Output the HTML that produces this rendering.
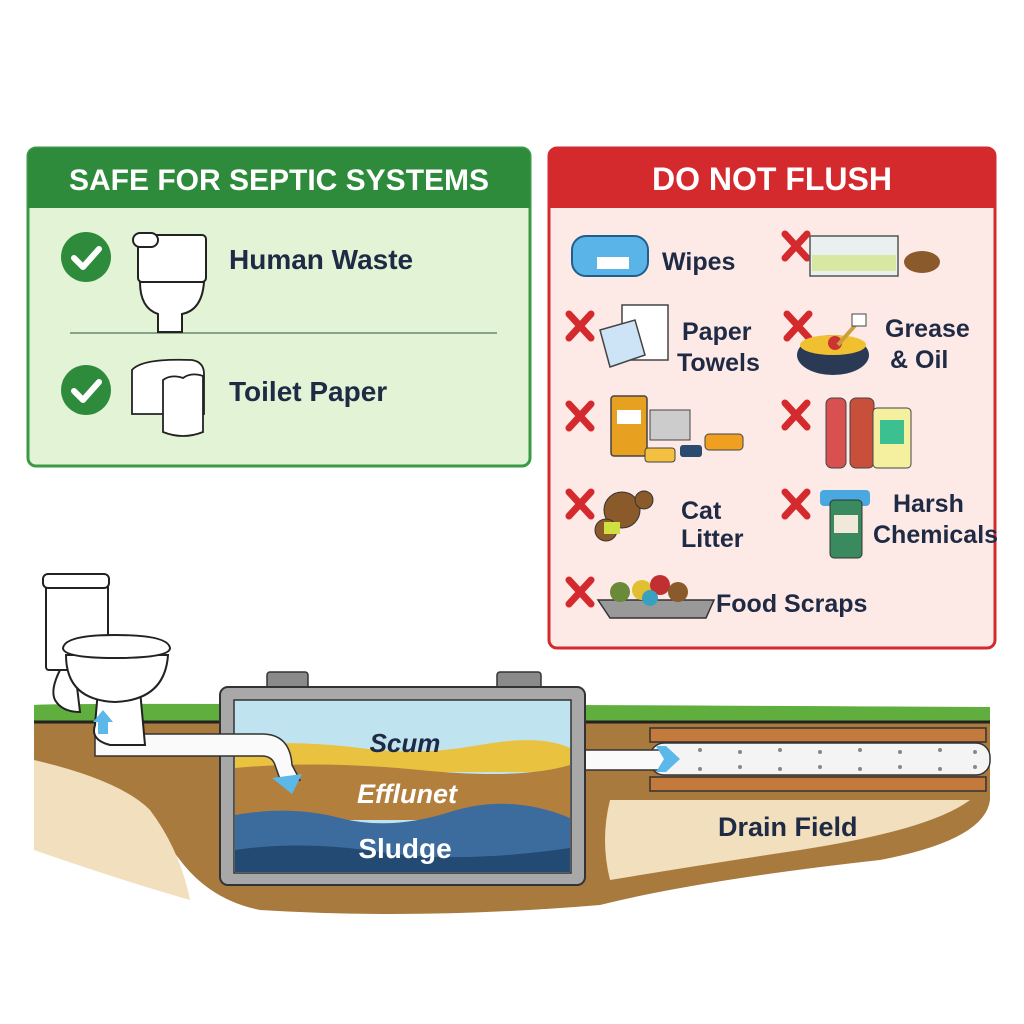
<!DOCTYPE html>
<html><head><meta charset="utf-8"><style>
html,body{margin:0;padding:0;background:#fff;}
svg{display:block}
text{font-family:"Liberation Sans","DejaVu Sans",sans-serif;font-weight:bold;}
</style></head><body>
<svg width="1024" height="1024" viewBox="0 0 1024 1024" xmlns="http://www.w3.org/2000/svg">
<rect width="1024" height="1024" fill="#fff"/>

<!-- GREEN PANEL -->
<rect x="28" y="148" width="502" height="318" rx="8" fill="#e2f3d6" stroke="#3a9a45" stroke-width="3"/>
<path d="M28 208 V156 a8 8 0 0 1 8 -8 H522 a8 8 0 0 1 8 8 V208 Z" fill="#2f8b3c"/>
<text x="279" y="190" font-size="30" fill="#fff" text-anchor="middle">SAFE FOR SEPTIC SYSTEMS</text>
<line x1="70" y1="333" x2="497" y2="333" stroke="#6b8a6b" stroke-width="1.5"/>
<circle cx="86" cy="257" r="25" fill="#2f8b3c"/>
<path d="M74 258 l9 9 l16 -18" fill="none" stroke="#fff" stroke-width="6" stroke-linecap="round" stroke-linejoin="round"/>
<circle cx="86" cy="390" r="25" fill="#2f8b3c"/>
<path d="M74 391 l9 9 l16 -18" fill="none" stroke="#fff" stroke-width="6" stroke-linecap="round" stroke-linejoin="round"/>
<g fill="#fff" stroke="#222" stroke-width="2">
<rect x="138" y="235" width="68" height="47" rx="4"/>
<rect x="133" y="233" width="25" height="14" rx="7"/>
<path d="M140 282 h64 q-2 28 -22 32 v18 h-24 v-18 q-18 -6 -18 -32z"/>
</g>
<g fill="#fff" stroke="#222" stroke-width="1.8">
<path d="M132 370 q10 -12 60 -10 q12 2 12 14 v40 h-72z"/>
<path d="M163 380 q8 -6 20 -2 q8 -6 20 -2 v56 q-20 8 -40 0z"/>
</g>
<text x="229" y="269" font-size="28" fill="#1f2a44">Human Waste</text>
<text x="229" y="401" font-size="28" fill="#1f2a44">Toilet Paper</text>

<!-- RED PANEL -->
<rect x="549" y="148" width="446" height="500" rx="8" fill="#fde9e6" stroke="#d42a2e" stroke-width="3"/>
<path d="M549 208 V156 a8 8 0 0 1 8 -8 H987 a8 8 0 0 1 8 8 V208 Z" fill="#d42a2e"/>
<text x="772" y="190" font-size="32" fill="#fff" text-anchor="middle">DO NOT FLUSH</text>
<g stroke="#d42a2e" stroke-width="7" stroke-linecap="round">
<path d="M785 234 l22 24 M807 234 l-22 24"/>
<path d="M569 314 l22 24 M591 314 l-22 24"/>
<path d="M787 314 l22 24 M809 314 l-22 24"/>
<path d="M569 404 l22 24 M591 404 l-22 24"/>
<path d="M785 403 l22 24 M807 403 l-22 24"/>
<path d="M569 492 l22 24 M591 492 l-22 24"/>
<path d="M785 492 l22 24 M807 492 l-22 24"/>
<path d="M569 580 l22 24 M591 580 l-22 24"/>
</g>
<rect x="572" y="236" width="76" height="40" rx="14" fill="#5bb4e8" stroke="#1f5f8f" stroke-width="2"/>
<rect x="597" y="257" width="32" height="12" fill="#fff"/>
<rect x="810" y="236" width="88" height="40" fill="#e8f0f0" stroke="#555" stroke-width="1.5"/>
<rect x="812" y="255" width="84" height="16" fill="#d9e8a0"/>
<ellipse cx="922" cy="262" rx="18" ry="11" fill="#8a5a2a"/>
<rect x="622" y="305" width="46" height="55" fill="#fff" stroke="#444" stroke-width="1.5"/>
<path d="M600 330 l35 -10 l10 35 l-35 12z" fill="#cde4f6" stroke="#444" stroke-width="1.5"/>
<ellipse cx="833" cy="355" rx="36" ry="20" fill="#2a3a55"/>
<ellipse cx="833" cy="345" rx="33" ry="10" fill="#f0c030"/>
<circle cx="835" cy="343" r="7" fill="#c33"/>
<line x1="838" y1="345" x2="858" y2="322" stroke="#c9a040" stroke-width="4"/>
<rect x="852" y="314" width="14" height="12" fill="#fff" stroke="#444"/>
<rect x="611" y="396" width="36" height="60" rx="3" fill="#e8a020" stroke="#444" stroke-width="1.5"/>
<rect x="617" y="410" width="24" height="14" fill="#fff"/>
<rect x="650" y="410" width="40" height="30" fill="#ccc" stroke="#444"/>
<rect x="645" y="448" width="30" height="14" rx="3" fill="#f4c040" stroke="#444"/>
<rect x="680" y="445" width="22" height="12" rx="3" fill="#2a4a70"/>
<rect x="705" y="434" width="38" height="16" rx="4" fill="#f0a020" stroke="#444"/>
<rect x="826" y="398" width="20" height="70" rx="6" fill="#d85050" stroke="#444"/>
<rect x="850" y="398" width="24" height="70" rx="6" fill="#c8503a" stroke="#444"/>
<rect x="873" y="408" width="38" height="60" rx="4" fill="#f4f0a0" stroke="#444"/>
<rect x="880" y="420" width="24" height="24" fill="#3cc090"/>
<circle cx="622" cy="510" r="18" fill="#8a5a2a" stroke="#333"/>
<circle cx="606" cy="530" r="11" fill="#8a5a2a" stroke="#333"/>
<circle cx="644" cy="500" r="9" fill="#8a5a2a" stroke="#333"/>
<rect x="604" y="522" width="16" height="12" fill="#d0e040"/>
<rect x="820" y="490" width="50" height="16" rx="4" fill="#4aa8e0"/>
<rect x="830" y="500" width="32" height="58" rx="4" fill="#3a8a60" stroke="#333"/>
<rect x="834" y="515" width="24" height="18" fill="#f0e8d8"/>
<path d="M598 600 l12 18 h96 l8 -18 z" fill="#999" stroke="#333" stroke-width="1.5"/>
<circle cx="620" cy="592" r="10" fill="#6a8a3a"/><circle cx="642" cy="590" r="10" fill="#e0c030"/>
<circle cx="660" cy="585" r="10" fill="#c03030"/><circle cx="678" cy="592" r="10" fill="#8a5a2a"/>
<circle cx="650" cy="598" r="8" fill="#3aa0c0"/>
<g font-size="25" fill="#1f2a44">
<text x="662" y="270">Wipes</text>
<text x="682" y="340">Paper</text>
<text x="677" y="371">Towels</text>
<text x="885" y="337">Grease</text>
<text x="890" y="368">&amp; Oil</text>
<text x="681" y="519">Cat</text>
<text x="681" y="547">Litter</text>
<text x="893" y="512">Harsh</text>
<text x="873" y="543">Chemicals</text>
<text x="716" y="612">Food Scraps</text>
</g>

<!-- GROUND -->
<path d="M34 705 Q60 702 990 707 L990 722 L34 722 Z" fill="#5fae3e"/>
<path d="M34 722 H990 V800 Q985 840 880 860 Q700 880 600 905 Q420 920 260 910 Q210 900 180 860 Q150 820 120 800 Q60 790 34 780 Z" fill="#a87a3e"/>
<path d="M34 760 Q120 780 150 810 Q180 850 190 900 Q120 880 34 850 Z" fill="#f1dfbe"/>
<path d="M610 800 L970 800 Q930 830 800 850 Q700 865 610 880 Q600 840 610 800 Z" fill="#f1dfbe"/>
<line x1="34" y1="722" x2="990" y2="722" stroke="#222" stroke-width="3"/>
<rect x="650" y="728" width="336" height="14" fill="#c47a3c" stroke="#333" stroke-width="1.5"/>
<rect x="650" y="777" width="336" height="14" fill="#c47a3c" stroke="#333" stroke-width="1.5"/>
<rect x="650" y="743" width="340" height="32" rx="14" fill="#f4f4f4" stroke="#333" stroke-width="1.5"/>
<g fill="#888">
<circle cx="700" cy="750" r="2"/><circle cx="740" cy="752" r="2"/><circle cx="780" cy="750" r="2"/><circle cx="820" cy="752" r="2"/><circle cx="860" cy="750" r="2"/><circle cx="900" cy="752" r="2"/><circle cx="940" cy="750" r="2"/><circle cx="975" cy="752" r="2"/>
<circle cx="700" cy="769" r="2"/><circle cx="740" cy="767" r="2"/><circle cx="780" cy="769" r="2"/><circle cx="820" cy="767" r="2"/><circle cx="860" cy="769" r="2"/><circle cx="900" cy="767" r="2"/><circle cx="940" cy="769" r="2"/><circle cx="975" cy="767" r="2"/>
</g>
<rect x="565" y="750" width="100" height="20" fill="#fafafa" stroke="#333" stroke-width="1.5"/>
<path d="M656 746 l10 0 l14 13 l-14 13 l-10 0 l8 -13z" fill="#5bb8e8"/>
<text x="718" y="836" font-size="27" fill="#1f2a44">Drain Field</text>

<!-- TANK -->
<rect x="267" y="672" width="41" height="20" rx="3" fill="#8a8a8a" stroke="#333" stroke-width="1.5"/>
<rect x="497" y="672" width="44" height="20" rx="3" fill="#8a8a8a" stroke="#333" stroke-width="1.5"/>
<rect x="220" y="687" width="365" height="198" rx="8" fill="#a8a8a8" stroke="#333" stroke-width="2"/>
<rect x="234" y="700" width="337" height="173" fill="#bfe3ef" stroke="#333" stroke-width="1.5"/>
<path d="M235 745 Q300 740 360 748 T480 745 T570 748 V772 H235Z" fill="#e9c340"/>
<path d="M235 768 Q320 760 420 770 T570 765 V820 H235Z" fill="#b37f3d"/>
<path d="M235 815 Q290 805 340 818 T450 812 T570 818 V872 H235Z" fill="#3c6c9e"/>
<path d="M235 850 Q300 840 380 852 T570 848 V872 H235Z" fill="#234a73"/>
<text x="405" y="752" font-size="26" font-style="italic" fill="#1f2a44" text-anchor="middle">Scum</text>
<text x="407" y="803" font-size="27" font-style="italic" fill="#fff" text-anchor="middle">Efflunet</text>
<text x="405" y="858" font-size="28" fill="#fff" text-anchor="middle">Sludge</text>

<!-- inlet pipe & toilet -->
<path d="M95 734 H262 Q290 734 292 765 L300 780 L282 785 L275 765 Q272 756 262 756 H95 Z" fill="#fafafa" stroke="#333" stroke-width="1.5"/>
<path d="M272 778 l30 -4 l-10 20z" fill="#5bb8e8"/>
<g fill="#fff" stroke="#222" stroke-width="2">
<rect x="46" y="580" width="62" height="90" rx="3"/>
<rect x="43" y="574" width="66" height="14" rx="5"/>
<path d="M60 670 Q50 690 55 700 Q62 712 80 712 L75 670Z"/>
<path d="M98 690 L95 725 Q90 740 110 745 L145 745 L140 690 Z"/>
<path d="M66 655 Q66 700 115 702 Q165 700 168 655 Z"/>
<path d="M63 648 Q65 635 115 635 Q168 635 170 648 Q170 658 115 658 Q63 658 63 648Z"/>
</g>
<path d="M93 722 l10 -12 l10 12 l-5 0 l0 12 l-10 0 l0 -12z" fill="#5bb8e8"/>
</svg>
</body></html>
